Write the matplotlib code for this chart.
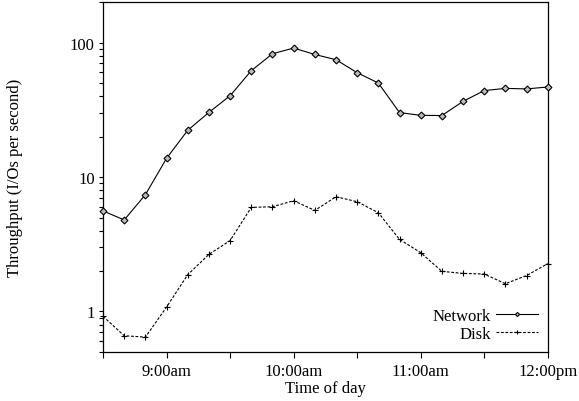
import matplotlib
matplotlib.use("Agg")
import matplotlib.pyplot as plt
from matplotlib.ticker import FixedLocator, LogLocator, NullFormatter, FixedFormatter

plt.rcParams["font.family"] = ["Liberation Serif", "DejaVu Serif"]

# Sample times (every 10 minutes) and measured throughput
times = ["8:30", "8:40", "8:50", "9:00", "9:10", "9:20", "9:30", "9:40",
         "9:50", "10:00", "10:10", "10:20", "10:30", "10:40", "10:50",
         "11:00", "11:10", "11:20", "11:30", "11:40", "11:50", "12:00"]
network = [5.6, 4.8, 7.4, 13.8, 22.3, 30.3, 40.3, 61.9, 82.7, 91.2, 81.7,
           74.7, 59.8, 50.1, 30.2, 28.8, 28.7, 36.6, 44.0, 45.7, 45.3, 46.8]
disk = [0.92, 0.66, 0.645, 1.08, 1.88, 2.66, 3.37, 5.95, 6.02, 6.67, 5.65,
        7.14, 6.56, 5.43, 3.44, 2.74, 1.99, 1.92, 1.90, 1.61, 1.85, 2.27]

hour_ticks = [9, 10, 11, 12]
hour_labels = ["9:00am", "10:00am", "11:00am", "12:00pm"]
half_hour_ticks = [8.5, 9.5, 10.5, 11.5]


def to_hours(s):
    h, m = s.split(":")
    return int(h) + int(m) / 60.0


x = [to_hours(t) for t in times]

fig = plt.figure(figsize=(5.79, 4.02), dpi=100)
ax = fig.add_axes([0.178, 0.122, 0.768, 0.870])

ax.plot(x, network, color="black", lw=0.8, linestyle="-", marker="D",
        ms=3.5, mfc="#bbbbbb", mec="black", mew=0.8, label="Network",
        clip_on=False, zorder=3)
ax.plot(x, disk, color="black", lw=0.8, linestyle=(0, (2.5, 1.5)), marker="+",
        ms=5, mew=0.8, label="Disk", clip_on=False, zorder=3)

ax.set_yscale("log")
ax.set_ylim(0.5, 200)
ax.set_xlim(8.5, 12.0)

ax.xaxis.set_major_locator(FixedLocator(hour_ticks))
ax.xaxis.set_major_formatter(FixedFormatter(hour_labels))
ax.xaxis.set_minor_locator(FixedLocator(half_hour_ticks))

ax.yaxis.set_major_locator(FixedLocator([1, 10, 100]))
ax.yaxis.set_major_formatter(FixedFormatter(["1", "10", "100"]))
ax.yaxis.set_minor_locator(LogLocator(base=10, subs=range(2, 10)))
ax.yaxis.set_minor_formatter(NullFormatter())

ax.tick_params(axis="both", which="both", direction="out", labelsize=12,
               width=0.8, top=False, right=False)
ax.tick_params(axis="x", which="both", length=4, pad=4)
ax.tick_params(axis="y", which="both", length=3, pad=3)

for sp in ax.spines.values():
    sp.set_linewidth(0.9)

ax.set_xlabel("Time of day", fontsize=12, labelpad=1)
ax.set_ylabel("Throughput (I/Os per second)", fontsize=12, labelpad=34)

leg = ax.legend(loc="lower right", frameon=False, fontsize=12,
                markerfirst=False, handlelength=2.5, handletextpad=0.3,
                labelspacing=0.1, borderaxespad=0.2, markerscale=0.6)

fig.savefig("out.png", dpi=100)
